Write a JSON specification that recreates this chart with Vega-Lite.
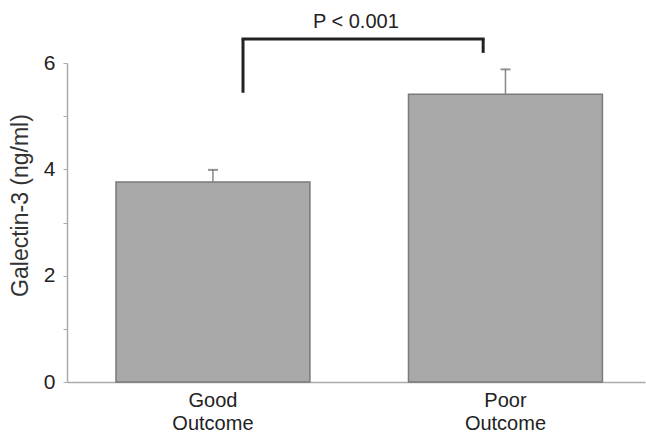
{
  "$schema": "https://vega.github.io/schema/vega-lite/v6.json",
  "width": 578,
  "height": 319,
  "autosize": {"type": "none"},
  "padding": {"left": 67, "top": 63, "right": 1, "bottom": 57},
  "background": "white",
  "config": {
    "view": {"stroke": null},
    "font": "Liberation Sans",
    "axis": {"grid": false}
  },
  "datasets": {
    "bars": [
      {"outcome": "Good Outcome", "mean": 3.76, "upper": 3.99},
      {"outcome": "Poor Outcome", "mean": 5.41, "upper": 5.88}
    ],
    "bracket": [
      {"from": "Good Outcome", "to": "Poor Outcome", "left_base": 5.44, "top": 6.45, "right_base": 6.19, "label_y": 6.66, "label": "P < 0.001"}
    ]
  },
  "layer": [
    {
      "data": {"name": "bars"},
      "mark": {"type": "bar", "color": "#a9a9a9", "stroke": "#7a7a7a", "strokeWidth": 1.5},
      "encoding": {
        "x": {
          "field": "outcome", "type": "nominal", "title": null,
          "scale": {"paddingInner": 0.337, "paddingOuter": 0.1565, "align": 0.535},
          "axis": {
            "labelAngle": 0, "labelFontSize": 20, "labelColor": "#222", "labelLineHeight": 23,
            "labelExpr": "split(datum.label, ' ')", "labelPadding": 8,
            "ticks": false, "domainColor": "#aaaaaa", "domainWidth": 1.5
          }
        },
        "y": {
          "field": "mean", "type": "quantitative", "title": "Galectin-3 (ng/ml)",
          "scale": {"domain": [0, 6], "nice": false},
          "axis": {
            "values": [0, 1, 2, 3, 4, 5, 6],
            "labelExpr": "datum.value % 2 == 0 ? datum.label : ''",
            "labelFontSize": 21, "labelColor": "#222", "labelPadding": 8,
            "tickSize": 4, "tickColor": "#aaaaaa", "domainColor": "#aaaaaa", "domainWidth": 1.5,
            "title": "Galectin-3 (ng/ml)",
            "titleFontSize": 23, "titleFontWeight": "normal", "titleColor": "#333", "titlePadding": 11,
            "titleY": 142
          }
        }
      }
    },
    {
      "data": {"name": "bars"},
      "mark": {"type": "rule", "color": "#888888", "strokeWidth": 1.5},
      "encoding": {
        "x": {"field": "outcome", "type": "nominal", "title": null},
        "y": {"field": "mean", "type": "quantitative", "title": "Galectin-3 (ng/ml)"},
        "y2": {"field": "upper"}
      }
    },
    {
      "data": {"name": "bars"},
      "mark": {"type": "tick", "color": "#666666", "size": 10, "thickness": 2},
      "encoding": {
        "x": {"field": "outcome", "type": "nominal", "title": null},
        "y": {"field": "upper", "type": "quantitative", "title": "Galectin-3 (ng/ml)"}
      }
    },
    {
      "data": {"name": "bracket"},
      "mark": {"type": "rule", "color": "#222222", "strokeWidth": 3},
      "encoding": {
        "x": {"field": "from", "type": "nominal", "title": null, "bandPosition": 0.655},
        "y": {"field": "left_base", "type": "quantitative", "title": "Galectin-3 (ng/ml)"},
        "y2": {"field": "top"}
      }
    },
    {
      "data": {"name": "bracket"},
      "mark": {"type": "rule", "color": "#222222", "strokeWidth": 3},
      "encoding": {
        "x": {"field": "to", "type": "nominal", "title": null, "bandPosition": 0.385},
        "y": {"field": "right_base", "type": "quantitative", "title": "Galectin-3 (ng/ml)"},
        "y2": {"field": "top"}
      }
    },
    {
      "data": {"name": "bracket"},
      "mark": {"type": "rule", "color": "#222222", "strokeWidth": 3, "strokeCap": "square"},
      "encoding": {
        "x": {"field": "from", "type": "nominal", "title": null, "bandPosition": 0.655},
        "x2": {"field": "to", "bandPosition": 0.385},
        "y": {"field": "top", "type": "quantitative", "title": "Galectin-3 (ng/ml)"}
      }
    },
    {
      "data": {"name": "bracket"},
      "mark": {"type": "text", "fontSize": 20, "color": "#222222", "align": "center", "baseline": "alphabetic"},
      "encoding": {
        "x": {"field": "from", "type": "nominal", "title": null, "bandPosition": 1.237},
        "y": {"field": "label_y", "type": "quantitative", "title": "Galectin-3 (ng/ml)"},
        "text": {"field": "label"}
      }
    }
  ]
}
